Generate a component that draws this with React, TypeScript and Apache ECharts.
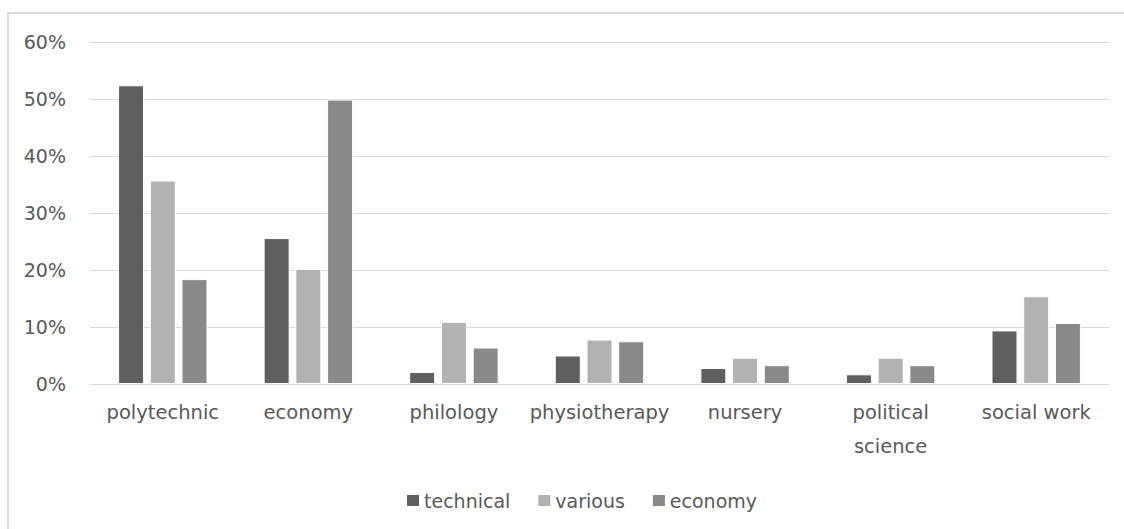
import React, { useEffect, useRef } from "react";
import * as echarts from "echarts";

const categories = ["polytechnic", "economy", "philology", "physiotherapy", "nursery", "political\nscience", "social work"];
const technical = [52.4, 25.6, 2.1, 5.0, 2.8, 1.7, 9.4];
const various = [35.7, 20.2, 10.9, 7.8, 4.6, 4.6, 15.4];
const economy = [18.4, 49.9, 6.4, 7.5, 3.3, 3.3, 10.7];
const yTicks = [0, 10, 20, 30, 40, 50, 60];

const FONT = "DejaVu Sans";
const TEXT = "#595959";

export default function App() {
  const ref = useRef<HTMLDivElement>(null);
  useEffect(() => {
    const chart = echarts.init(ref.current!, null, { renderer: "svg" });
    const mk = (name: string, data: number[], color: string) => ({
      name,
      type: "bar",
      data,
      barWidth: 26,
      barGap: "22%",
      itemStyle: { color, borderColor: "#ffffff", borderWidth: 1 },
    });
    chart.setOption({
      animation: false,
      backgroundColor: "#ffffff",
      graphic: [
        {
          type: "rect",
          shape: { x: 8, y: 13, width: 1200, height: 600 },
          style: { fill: "none", stroke: "#d9d9d9", lineWidth: 2 },
          silent: true,
          z: -1,
        },
      ],
      grid: { left: 90, right: 15, top: 42, bottom: 145, containLabel: false },
      legend: {
        top: 486,
        left: 400,
        itemWidth: 14,
        itemHeight: 13,
        itemGap: 26,
        icon: "rect",
        textStyle: { fontFamily: FONT, fontSize: 19, color: TEXT, padding: [0, 0, 0, -1] },
        data: ["technical", "various", "economy"],
      },
      xAxis: {
        type: "category",
        data: categories,
        axisLine: { lineStyle: { color: "#d9d9d9", width: 1 } },
        axisTick: { show: false },
        axisLabel: {
          interval: 0,
          margin: 11,
          lineHeight: 34,
          fontFamily: FONT,
          fontSize: 19.5,
          color: TEXT,
        },
      },
      yAxis: {
        type: "value",
        min: yTicks[0],
        max: yTicks[yTicks.length - 1],
        interval: 10,
        axisLine: { show: false },
        axisTick: { show: false },
        splitLine: { lineStyle: { color: "#d9d9d9", width: 1 } },
        axisLabel: {
          margin: 24,
          fontFamily: FONT,
          fontSize: 19,
          color: TEXT,
          formatter: (v: number) => `${v}%`,
        },
      },
      series: [
        mk("technical", technical, "#5f5f5f"),
        mk("various", various, "#b2b2b2"),
        mk("economy", economy, "#898989"),
      ],
    });
    return () => chart.dispose();
  }, []);
  return (
    <div
      ref={ref}
      style={{ position: "absolute", left: 0, top: 0, width: 1124, height: 529 }}
    />
  );
}
